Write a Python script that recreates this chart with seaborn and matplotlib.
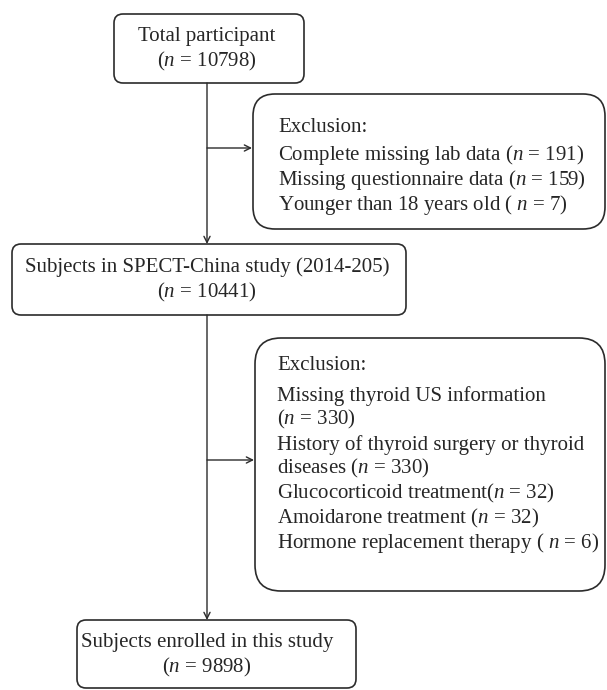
import matplotlib
matplotlib.use("Agg")
import matplotlib.pyplot as plt
import seaborn as sns
from matplotlib.patches import FancyBboxPatch

sns.set_theme(style="white")
plt.rcParams["font.family"] = ["Liberation Serif", "DejaVu Serif"]
plt.rcParams["mathtext.fontset"] = "custom"
plt.rcParams["mathtext.rm"] = "Liberation Serif"
plt.rcParams["mathtext.it"] = "Liberation Serif:italic"

# flowchart content
main_titles = ["Total participant",
               "Subjects in SPECT-China study (2014-205)",
               "Subjects enrolled in this study"]
main_counts = [10798, 10441, 9898]

excl1_labels = ["Complete missing lab data ($n$ = 191)",
                "Missing questionnaire data ($n$ = 159)",
                "Younger than 18 years old ( $n$ = 7)"]
excl2_labels = ["Missing thyroid US information",
                "($n$ = 330)",
                "History of thyroid surgery or thyroid",
                "diseases ($n$ = 330)",
                "Glucocorticoid treatment($n$ = 32)",
                "Amoidarone treatment ($n$ = 32)",
                "Hormone replacement therapy ( $n$ = 6)"]

W, H = 607, 690
fig = plt.figure(figsize=(W / 100, H / 100), dpi=100)
ax = fig.add_axes([0, 0, 1, 1])
ax.set_xlim(0, W)
ax.set_ylim(H, 0)
ax.axis("off")

FS = 15
lc = "#2b2b2b"


def box(x0, y0, x1, y1, pad):
    p = FancyBboxPatch((x0 + pad, y0 + pad), x1 - x0 - 2 * pad, y1 - y0 - 2 * pad,
                       boxstyle=f"round,pad={pad}", fc="white", ec=lc, lw=1.2)
    ax.add_patch(p)


def arrow(x0, y0, x1, y1):
    ax.annotate("", xy=(x1, y1), xytext=(x0, y0),
                arrowprops=dict(arrowstyle="->", color=lc, lw=1.0,
                                shrinkA=0, shrinkB=0, mutation_scale=11))


cx = 207
# main boxes
main_boxes = [(114, 14, 304, 83), (12, 244, 406, 315), (77, 620, 356, 688)]
for (x0, y0, x1, y1), title, n in zip(main_boxes, main_titles, main_counts):
    box(x0, y0, x1, y1, 9)
    ym = (y0 + y1) / 2
    ax.text(cx, ym - 12, title, ha="center", va="center", fontsize=FS)
    ax.text(cx, ym + 13, f"($n$ = {n})", ha="center", va="center", fontsize=FS)

# vertical connectors
arrow(cx, 83, cx, 244)
arrow(cx, 315, cx, 620)

# exclusion box 1
box(253, 94, 605, 229, 22)
arrow(cx, 148, 252, 148)
ax.text(278, 128, "Exclusion:", ha="left", va="center", fontsize=FS)
for i, lab in enumerate(excl1_labels):
    ax.text(278, 155 + i * 25, lab, ha="left", va="center", fontsize=FS)

# exclusion box 2
box(255, 338, 605, 591, 26)
arrow(cx, 460, 254, 460)
ax.text(277, 365, "Exclusion:", ha="left", va="center", fontsize=FS)
ys2 = [396, 419, 445, 468, 493, 518, 543]
for y, lab in zip(ys2, excl2_labels):
    ax.text(277, y, lab, ha="left", va="center", fontsize=FS)

fig.savefig("out.png", dpi=100, facecolor="white")
